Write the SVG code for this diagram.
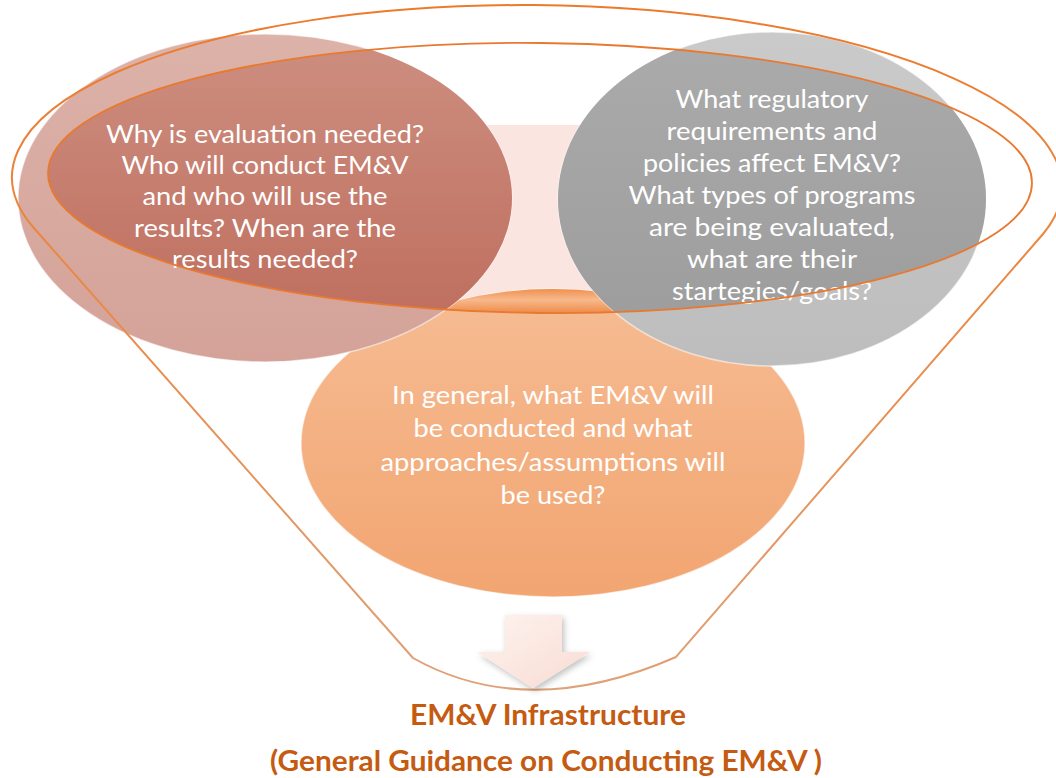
<svg xmlns="http://www.w3.org/2000/svg" width="1056" height="778" viewBox="0 0 1056 778">
  <style>
    .t { font-family: Lato, "Open Sans", "Liberation Sans", sans-serif; font-size: 25.5px; fill: #ffffff; text-anchor: middle; }
    .lbl { font-family: Lato, "Open Sans", "Liberation Sans", sans-serif; font-weight: 700; font-size: 28px; fill: #c55a11; text-anchor: middle; }
    .rim { fill: none; stroke: url(#rimStroke); stroke-width: 2; }
    .edge { stroke: #ffffff; stroke-opacity: 0.55; stroke-width: 1.5; }
  </style>
  <defs>
    <linearGradient id="rimStroke" gradientUnits="userSpaceOnUse" x1="0" y1="0" x2="0" y2="700">
      <stop offset="0" stop-color="#ec7a2c"/>
      <stop offset="0.45" stop-color="#e98a48"/>
      <stop offset="1" stop-color="#dfa27a"/>
    </linearGradient>
    <linearGradient id="redLight" x1="0" y1="0" x2="0" y2="1">
      <stop offset="0" stop-color="#dcb2a9"/>
      <stop offset="1" stop-color="#d4a298"/>
    </linearGradient>
    <linearGradient id="redDark" x1="0" y1="0" x2="0" y2="1">
      <stop offset="0" stop-color="#cd8f80"/>
      <stop offset="1" stop-color="#bd6a5a"/>
    </linearGradient>
    <linearGradient id="greyLight" x1="0" y1="0" x2="0" y2="1">
      <stop offset="0" stop-color="#cacaca"/>
      <stop offset="1" stop-color="#bdbdbd"/>
    </linearGradient>
    <linearGradient id="greyDark" x1="0" y1="0" x2="0" y2="1">
      <stop offset="0" stop-color="#ababab"/>
      <stop offset="1" stop-color="#9b9b9b"/>
    </linearGradient>
    <linearGradient id="orangeLight" x1="0" y1="0" x2="0" y2="1">
      <stop offset="0" stop-color="#f6bc93"/>
      <stop offset="1" stop-color="#f2a571"/>
    </linearGradient>
    <linearGradient id="orangeDark" gradientUnits="userSpaceOnUse" x1="0" y1="288" x2="0" y2="314">
      <stop offset="0" stop-color="#f08c48"/>
      <stop offset="0.45" stop-color="#f7b98c"/>
      <stop offset="1" stop-color="#ee8744"/>
    </linearGradient>
    <linearGradient id="arrowFill" x1="0" y1="0" x2="1" y2="1">
      <stop offset="0" stop-color="#fef3ef"/>
      <stop offset="1" stop-color="#f8dcd3"/>
    </linearGradient>
    <clipPath id="opening">
      <ellipse cx="540" cy="178" rx="492" ry="135" transform="rotate(0.6 540 178)"/>
    </clipPath>
    <filter id="shadow" x="-20%" y="-20%" width="150%" height="150%">
      <feDropShadow dx="2" dy="3" stdDeviation="3" flood-color="#000000" flood-opacity="0.25"/>
    </filter>
  </defs>

  <rect x="0" y="0" width="1056" height="778" fill="#ffffff"/>

  <!-- faint backdrop inside the funnel opening -->
  <rect x="380" y="125" width="330" height="185" fill="#fae5e0"/>

  <g id="node-approach">
    <ellipse cx="553" cy="443" rx="252" ry="154" fill="url(#orangeLight)" class="edge"/>
    <ellipse cx="553" cy="443" rx="252" ry="154" fill="url(#orangeDark)" clip-path="url(#opening)"/>
    <text class="t" x="553" y="404" textLength="322" lengthAdjust="spacingAndGlyphs">In general, what EM&amp;V will</text>
    <text class="t" x="553" y="437.3" textLength="279" lengthAdjust="spacingAndGlyphs">be conducted and what</text>
    <text class="t" x="553" y="470.6" textLength="345" lengthAdjust="spacingAndGlyphs">approaches/assumptions will</text>
    <text class="t" x="553" y="504" textLength="105" lengthAdjust="spacingAndGlyphs">be used?</text>
  </g>

  <g id="node-why">
    <ellipse cx="265" cy="198" rx="247" ry="164" fill="url(#redLight)" class="edge"/>
    <ellipse cx="265" cy="198" rx="247" ry="164" fill="url(#redDark)" clip-path="url(#opening)"/>
    <text class="t" x="265" y="143" textLength="318" lengthAdjust="spacingAndGlyphs">Why is evaluation needed?</text>
    <text class="t" x="265" y="174.2" textLength="287" lengthAdjust="spacingAndGlyphs">Who will conduct EM&amp;V</text>
    <text class="t" x="265" y="205.4" textLength="245" lengthAdjust="spacingAndGlyphs">and who will use the</text>
    <text class="t" x="265" y="236.6" textLength="262" lengthAdjust="spacingAndGlyphs">results? When are the</text>
    <text class="t" x="265" y="267.8" textLength="186" lengthAdjust="spacingAndGlyphs">results needed?</text>
  </g>

  <g id="node-regulatory">
    <ellipse cx="772" cy="199" rx="214" ry="167" fill="url(#greyLight)" class="edge"/>
    <ellipse cx="772" cy="199" rx="214" ry="167" fill="url(#greyDark)" clip-path="url(#opening)"/>
    <text class="t" x="772" y="108" textLength="193" lengthAdjust="spacingAndGlyphs">What regulatory</text>
    <text class="t" x="772" y="140" textLength="211" lengthAdjust="spacingAndGlyphs">requirements and</text>
    <text class="t" x="772" y="172" textLength="258" lengthAdjust="spacingAndGlyphs">policies affect EM&amp;V?</text>
    <text class="t" x="772" y="204" textLength="287" lengthAdjust="spacingAndGlyphs">What types of programs</text>
    <text class="t" x="772" y="236" textLength="246" lengthAdjust="spacingAndGlyphs">are being evaluated,</text>
    <text class="t" x="772" y="268" textLength="170" lengthAdjust="spacingAndGlyphs">what are their</text>
    <text class="t" x="772" y="300" textLength="200" lengthAdjust="spacingAndGlyphs">startegies/goals?</text>
  </g>

  <g id="funnel">
    <path class="rim" d="M413,658 L33,227 A525 177 0.6 1 1 1043,234 L676,657 Q527,722 413,658 Z"/>
    <ellipse cx="540" cy="178" rx="492" ry="135" transform="rotate(0.6 540 178)" fill="none" stroke="#e8792f" stroke-width="1.8"/>
  </g>

  <g id="connectors">
    <path d="M505,615 H562 V652 H590 L533,688 L477,652 H505 Z" fill="url(#arrowFill)" filter="url(#shadow)"/>
  </g>

  <g id="node-output">
    <text class="lbl" x="548" y="725" textLength="276" lengthAdjust="spacingAndGlyphs">EM&amp;V Infrastructure</text>
    <text class="lbl" x="546" y="771" textLength="552" lengthAdjust="spacingAndGlyphs">(General Guidance on Conducting EM&amp;V )</text>
  </g>
</svg>
